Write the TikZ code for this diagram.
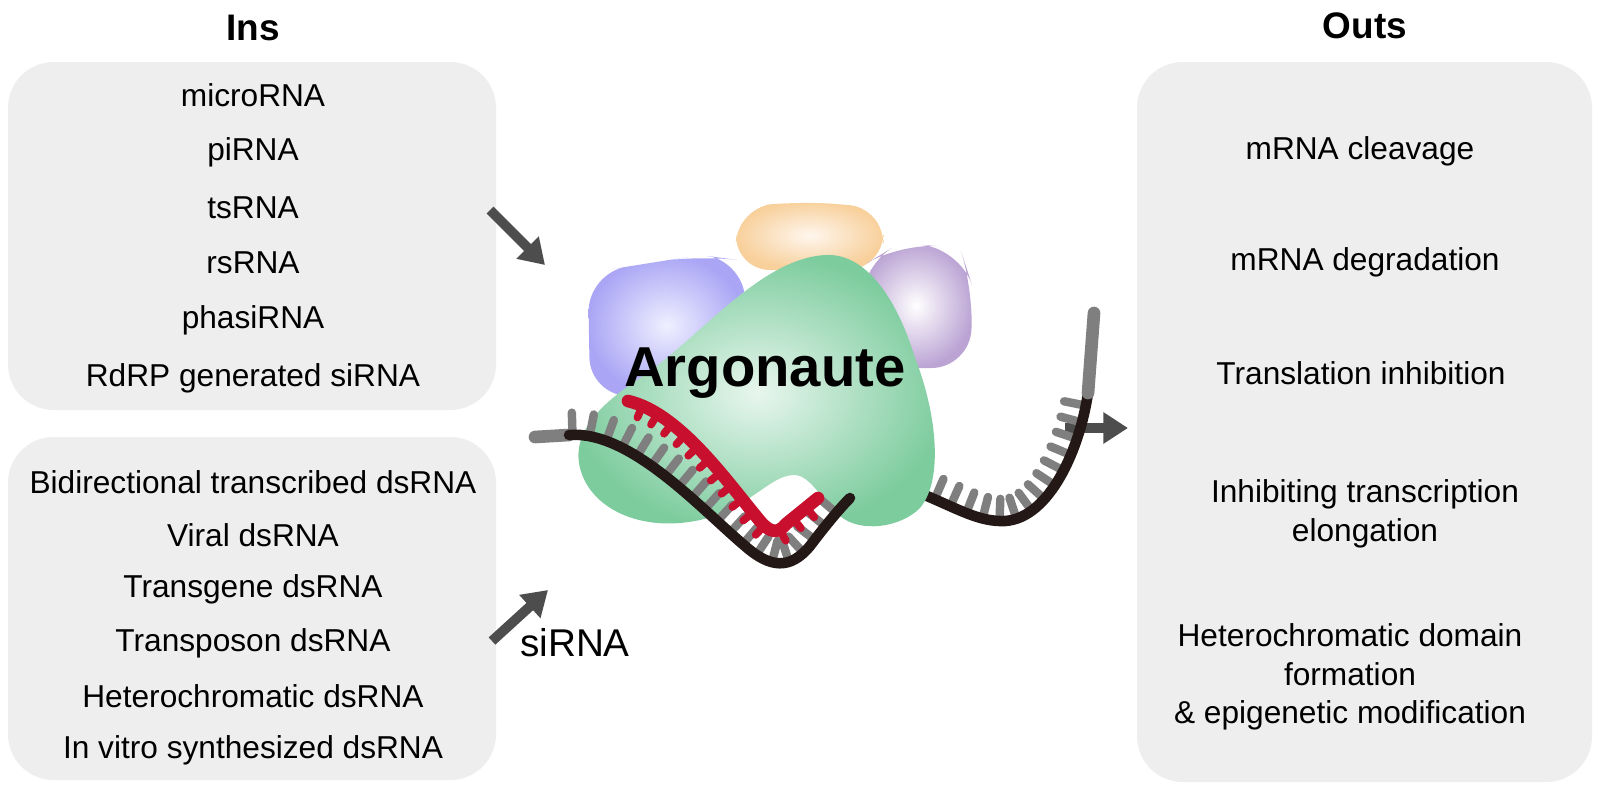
\documentclass[tikz,border=0pt]{standalone}
\usepackage{fontspec}
\setmainfont{Liberation Sans}
\usetikzlibrary{arrows.meta,decorations.markings}
\definecolor{boxg}{HTML}{EEEEEE}
\definecolor{arr}{HTML}{4D4D4D}
\definecolor{basec}{HTML}{7F7F7F}
\definecolor{bb}{HTML}{231815}
\definecolor{redc}{HTML}{C8102E}
\begin{document}
\begin{tikzpicture}[x=0.01cm,y=0.01cm,
  box/.style={fill=boxg, rounded corners=13pt},
  lbl/.style={font=\fontsize{9}{11}\selectfont, align=center},
  ttl/.style={font=\fontsize{10.5}{12}\selectfont\bfseries},
  bigarrow/.style={draw=arr, line width=2.8pt, -{Triangle[length=7pt,width=8.5pt]}},
  bases/.style={decorate,decoration={markings, mark=between positions 0.01 and 0.99 step 4.9pt with {\draw[basec, line width=2.4pt, line cap=round] (0,1.2pt) -- (0,6.3pt);}}},
  rstubs/.style={decorate,decoration={markings, mark=between positions 0.06 and 0.97 step 4.9pt with {\draw[redc, line width=2.2pt, line cap=round] (0,0) -- (0,-3.6pt);}}},
  backbone/.style={draw=bb, line width=3pt, line cap=round},
  tail/.style={draw=basec, line width=3.6pt, line cap=round}]
\path[fill=white] (0,0) rectangle (1600,808);
\useasboundingbox (0,0) rectangle (1600,808);
% boxes
\path[box] (8,398) rectangle (496,746);
\path[box] (8,28) rectangle (496,371);
\path[box] (1137,26) rectangle (1592,746);
\node[ttl] (ins) at (253,780) {Ins};
\node[ttl] (outs) at (1365,782) {Outs};
\node[lbl] (l1) at (253,713) {microRNA};
\node[lbl] (l2) at (253,656) {piRNA};
\node[lbl] (l3) at (253,600) {tsRNA};
\node[lbl] (l4) at (253,545) {rsRNA};
\node[lbl] (l5) at (253,488) {phasiRNA};
\node[lbl] (l6) at (253,430) {RdRP generated siRNA};
\node[lbl] (m1) at (253,326) {Bidirectional transcribed dsRNA};
\node[lbl] (m2) at (253,273) {Viral dsRNA};
\node[lbl] (m3) at (253,219) {Transgene dsRNA};
\node[lbl] (m4) at (253,165) {Transposon dsRNA};
\node[lbl] (m5) at (253,112) {Heterochromatic dsRNA};
\node[lbl] (m6) at (253,58) {In vitro synthesized dsRNA};
\node[lbl] (o1) at (1360,657) {mRNA cleavage};
\node[lbl] (o2) at (1365,546) {mRNA degradation};
\node[lbl] (o3) at (1361,435) {Translation inhibition};
\node[lbl] (o4) at (1365,294) {Inhibiting transcription\\elongation};
\node[lbl] (o5) at (1350,131) {Heterochromatic domain\\formation\\\& epigenetic modification};
\node[font=\fontsize{11}{13}\selectfont] (si) at (575,165) {siRNA};
% arrows
\coordinate (a1s) at (490,598); \coordinate (a1e) at (545,543);
\coordinate (a2s) at (492,167); \coordinate (a2e) at (548,218);
\coordinate (a3s) at (1065,380); \coordinate (a3e) at (1128,380);
\draw[bigarrow] (a1s) -- (a1e);
\draw[bigarrow] (a2s) -- (a2e);
\draw[bigarrow] (a3s) -- (a3e);
% strand part behind protein
\coordinate (p0) at (850,310);
\coordinate (p1) at (1088,415);
\coordinate (p2) at (1094,495);
\path[bases] (p0) .. controls (880,330) and (900,322) .. (927,312) .. controls (960,298) and (980,286) .. (1005,287) .. controls (1050,290) and (1080,360) .. (p1);
\draw[backbone] (p0) .. controls (880,330) and (900,322) .. (927,312) .. controls (960,298) and (980,286) .. (1005,287) .. controls (1050,290) and (1080,360) .. (p1);
\draw[tail] (p1) -- (p2);
% protein subunits
\path[inner color=blue!6, outer color={rgb,255:red,170;green,166;blue,245}, rounded corners=11pt]
  (590,412) -- (588,535) -- (650,545) -- (700,553) -- (745,547) -- (745,412) -- cycle;
\path[inner color=orange!8, outer color={rgb,255:red,247;green,200;blue,138}, rounded corners=10pt, opacity=0.85]
  (735,538) -- (737,600) -- (800,607) -- (884,600) -- (882,538) -- cycle;
\path[inner color=white, outer color={rgb,255:red,180;green,154;blue,208}, rounded corners=11pt, opacity=0.9]
  (862,440) -- (859,540) -- (900,565) -- (960,560) -- (973,520) -- (970,440) -- cycle;
\path[inner color={rgb,255:red,232;green,246;blue,238}, outer color={rgb,255:red,125;green,204;blue,158}]
  (826,553) .. controls (870,555) and (900,500) .. (915,450) .. controls (935,400) and (945,330) .. (920,300)
  .. controls (900,280) and (860,275) .. (840,292) .. controls (820,310) and (810,333) .. (794,333)
  .. controls (770,333) and (750,300) .. (700,288) .. controls (640,275) and (590,300) .. (580,340)
  .. controls (570,380) and (610,410) .. (640,430) .. controls (700,470) and (760,550) .. (826,553) -- cycle;
\node[font=\fontsize{16}{18}\selectfont\bfseries] (argo) at (765,435) {Argonaute};
% front strand
\coordinate (q0) at (535,371);
\coordinate (q1) at (569,373);
\draw[tail] (q0) -- (q1);
\path[bases] (q1) .. controls (630,378) and (700,300) .. (745,262) .. controls (770,240) and (790,238) .. (810,262) .. controls (825,282) and (840,300) .. (p0);
\draw[backbone] (q1) .. controls (630,378) and (700,300) .. (745,262) .. controls (770,240) and (790,238) .. (810,262) .. controls (825,282) and (840,300) .. (p0);
% guide strand
\coordinate (r0) at (628,407);
\coordinate (r1) at (818,310);
\path[rstubs] (r0) .. controls (680,395) and (728,325) .. (760,287) .. controls (770,275) and (778,274) .. (786,284) -- (r1);
\draw[redc, line width=3.6pt, line cap=round, line join=round] (r0) .. controls (680,395) and (728,325) .. (760,287) .. controls (770,275) and (778,274) .. (786,284) -- (r1);
\end{tikzpicture}
\end{document}
